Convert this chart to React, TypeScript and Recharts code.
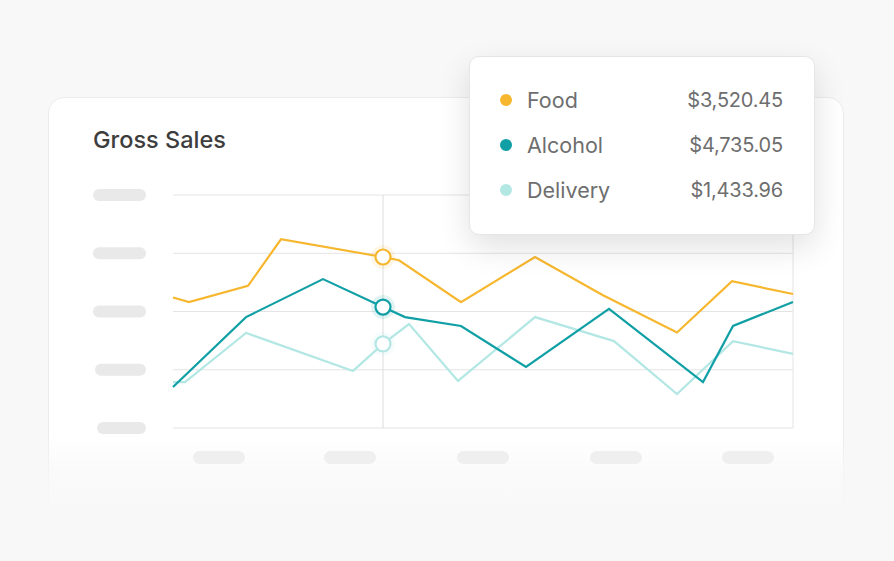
import React from "react";
import {
  LineChart,
  Line,
  XAxis,
  YAxis,
  CartesianGrid,
  ReferenceLine,
} from "recharts";

// x positions are in "units" along the period, y in % of the axis range
const foodX = [0, 1.6, 7.5, 10.8, 21, 22.6, 28.8, 36.2, 43, 50.4, 55.9, 62];
const foodY = [56, 54, 61, 81, 73.4, 72, 54, 73.4, 57, 41, 63, 57.5];

const alcoholX = [0, 7.3, 15, 21, 23.2, 28.8, 35.3, 43.6, 53, 56, 62];
const alcoholY = [17.6, 47.6, 63.9, 51.9, 47.6, 43.8, 26.2, 51.1, 19.7, 43.8, 54.1];

const deliveryX = [0, 1.2, 7.3, 18, 21, 23.6, 28.5, 36.2, 44.1, 50.4, 56, 62];
const deliveryY = [19.7, 19.7, 40.8, 24.5, 36.1, 44.6, 20.2, 47.6, 37.3, 14.6, 37.3, 31.8];

const yTicks = [0, 25, 50, 75, 100];
const xTicks = [4.6, 17.7, 31, 44.3, 57.5];

const seriesNames = ["Food", "Alcohol", "Delivery"];
const seriesValues = ["$3,520.45", "$4,735.05", "$1,433.96"];
const seriesColors = ["#F6B72E", "#0F9FA5", "#B3E7E4"];

const activeX = 21;

const toPoints = (xs: number[], ys: number[]) =>
  xs.map((x, i) => ({ x, y: ys[i] }));

const foodData = toPoints(foodX, foodY);
const alcoholData = toPoints(alcoholX, alcoholY);
const deliveryData = toPoints(deliveryX, deliveryY);

// placeholder pills instead of tick text
const YPill = (props: any) => {
  const { x, y, index } = props;
  const w = [49, 51, 53, 53, 53][index] ?? 53;
  return (
    <rect x={x - w} y={y - 6} width={w} height={12} rx={6} fill="#e9e9e9" />
  );
};

const XPill = (props: any) => {
  const { x, y } = props;
  return (
    <rect x={x - 26} y={y} width={52} height={13} rx={6.5} fill="#efefef" />
  );
};

const makeDot = (color: string) => (props: any) => {
  const { cx, cy, payload, index } = props;
  if (payload.x !== activeX) return <g key={index} />;
  return (
    <g key={index}>
      <circle cx={cx} cy={cy} r={12} fill={color} opacity={0.12} />
      <circle cx={cx} cy={cy} r={7.5} fill="#fff" stroke={color} strokeWidth={2.2} />
    </g>
  );
};

export default function App() {
  return (
    <div
      style={{
        position: "absolute",
        left: 0,
        top: 0,
        width: 894,
        height: 561,
        overflow: "hidden",
        background: "#f8f8f8",
        fontFamily: "Inter, 'Open Sans', sans-serif",
      }}
    >
      {/* card */}
      <div
        style={{
          position: "absolute",
          left: 48,
          top: 97,
          width: 794,
          height: 430,
          background: "#fff",
          border: "1px solid #ececec",
          borderRadius: 16,
        }}
      />
      <div
        style={{
          position: "absolute",
          left: 0,
          top: 435,
          width: 894,
          height: 126,
          background:
            "linear-gradient(to bottom, rgba(248,248,248,0) 0%, rgba(248,248,248,0.7) 30%, #f8f8f8 60%)",
        }}
      />
      <div
        style={{
          position: "absolute",
          left: 93,
          top: 125,
          fontSize: 23.5,
          fontWeight: 500,
          color: "#3d3d3d",
        }}
      >
        Gross Sales
      </div>

      <div style={{ position: "absolute", left: 0, top: 0 }}>
        <LineChart
          width={894}
          height={561}
          margin={{ top: 195, right: 101, bottom: 103, left: 80 }}
        >
          <CartesianGrid vertical={false} stroke="#e4e4e4" strokeWidth={1} />
          <XAxis
            dataKey="x"
            type="number"
            domain={[0, 62]}
            ticks={xTicks}
            height={30}
            axisLine={false}
            tickLine={false}
            tickSize={0}
            tickMargin={23}
            tick={<XPill />}
            allowDuplicatedCategory={false}
          />
          <YAxis
            type="number"
            domain={[0, 100]}
            ticks={yTicks}
            width={93}
            axisLine={false}
            tickLine={false}
            tickSize={0}
            tickMargin={27}
            tick={<YPill />}
          />
          <ReferenceLine x={activeX} stroke="#dcdcdc" strokeWidth={1} />
          <ReferenceLine x={62} stroke="#e4e4e4" strokeWidth={1} />
          <Line
            data={deliveryData}
            dataKey="y"
            stroke={seriesColors[2]}
            strokeWidth={2.2}
            dot={makeDot(seriesColors[2])}
            activeDot={false}
            isAnimationActive={false}
          />
          <Line
            data={foodData}
            dataKey="y"
            stroke={seriesColors[0]}
            strokeWidth={2.2}
            dot={makeDot(seriesColors[0])}
            activeDot={false}
            isAnimationActive={false}
          />
          <Line
            data={alcoholData}
            dataKey="y"
            stroke={seriesColors[1]}
            strokeWidth={2.2}
            dot={makeDot(seriesColors[1])}
            activeDot={false}
            isAnimationActive={false}
          />
        </LineChart>
      </div>

      {/* static tooltip */}
      <div
        style={{
          position: "absolute",
          left: 469,
          top: 56,
          width: 344,
          height: 177,
          background: "#fff",
          border: "1px solid #e6e6e6",
          borderRadius: 10,
          boxShadow: "0 12px 32px rgba(0,0,0,0.12)",
        }}
      >
        {seriesNames.map((name, i) => (
          <div
            key={name}
            style={{
              position: "absolute",
              left: 30,
              top: 28 + i * 45,
              width: 283,
              height: 30,
              display: "flex",
              alignItems: "center",
              fontSize: 21.5,
              color: "#6e6e6e",
            }}
          >
            <span
              style={{
                width: 12,
                height: 12,
                borderRadius: 6,
                background: seriesColors[i],
                marginRight: 15,
                flexShrink: 0,
              }}
            />
            <span style={{ flex: 1 }}>{name}</span>
            <span
              style={{
                fontVariantNumeric: "proportional-nums",
                fontSize: 20,
                letterSpacing: -0.2,
              }}
            >
              {seriesValues[i]}
            </span>
          </div>
        ))}
      </div>
    </div>
  );
}
